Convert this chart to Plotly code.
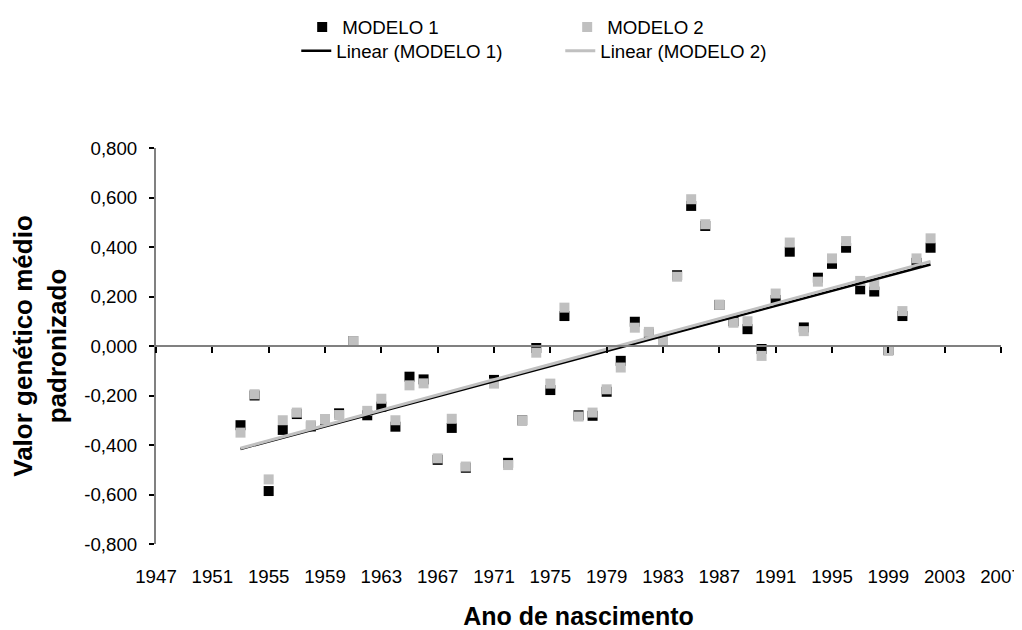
import numpy as np
import plotly.graph_objects as go

years = [1953, 1954, 1955, 1956, 1957, 1958, 1959, 1960, 1961, 1962, 1963, 1964,
         1965, 1966, 1967, 1968, 1969, 1971, 1972, 1973, 1974, 1975, 1976, 1977,
         1978, 1979, 1980, 1981, 1982, 1983, 1984, 1985, 1986, 1987, 1988, 1989,
         1990, 1991, 1992, 1993, 1994, 1995, 1996, 1997, 1998, 1999, 2000, 2001, 2002]

modelo1 = [-0.320, -0.200, -0.586, -0.339, -0.275, -0.325, -0.298, -0.272, 0.020, -0.280,
           -0.245, -0.326, -0.124, -0.135, -0.460, -0.331, -0.492, -0.137, -0.472, -0.300,
           -0.008, -0.178, 0.121, -0.280, -0.282, -0.185, -0.060, 0.098, 0.050, 0.018,
           0.286, 0.566, 0.485, 0.166, 0.100, 0.068, -0.012, 0.186, 0.381, 0.075,
           0.276, 0.332, 0.397, 0.229, 0.220, -0.017, 0.121, 0.336, 0.397]

modelo2 = [-0.350, -0.195, -0.539, -0.300, -0.269, -0.320, -0.296, -0.279, 0.020, -0.262,
           -0.213, -0.300, -0.159, -0.151, -0.454, -0.294, -0.487, -0.152, -0.481, -0.300,
           -0.027, -0.152, 0.155, -0.285, -0.269, -0.175, -0.087, 0.074, 0.057, 0.020,
           0.280, 0.593, 0.492, 0.166, 0.094, 0.100, -0.040, 0.212, 0.418, 0.060,
           0.260, 0.354, 0.424, 0.263, 0.246, -0.017, 0.141, 0.354, 0.435]

y_tickvals = [-0.8, -0.6, -0.4, -0.2, 0.0, 0.2, 0.4, 0.6, 0.8]
y_ticktext = ["-0,800", "-0,600", "-0,400", "-0,200", "0,000", "0,200", "0,400", "0,600", "0,800"]
x_tickvals = list(range(1947, 2008, 4))

FONT = "Liberation Sans"
BLACK = "#000000"
GRAY = "#c0c0c0"

x = np.array(years, dtype=float)
fit1 = np.polyfit(x, np.array(modelo1), 1)
fit2 = np.polyfit(x, np.array(modelo2), 1)
xl = np.array([min(years), max(years)], dtype=float)

fig = go.Figure()
fig.add_trace(go.Scatter(x=years, y=modelo1, mode="markers", name="MODELO 1",
                         marker=dict(symbol="square", size=10, color=BLACK),
                         legend="legend"))
fig.add_trace(go.Scatter(x=years, y=modelo2, mode="markers", name="MODELO 2",
                         marker=dict(symbol="square", size=10, color=GRAY),
                         legend="legend"))
fig.add_trace(go.Scatter(x=xl, y=np.polyval(fit1, xl), mode="lines", name="Linear (MODELO 1)",
                         line=dict(color=BLACK, width=2.5), legend="legend2"))
fig.add_trace(go.Scatter(x=xl, y=np.polyval(fit2, xl), mode="lines", name="Linear (MODELO 2)",
                         line=dict(color=GRAY, width=3), legend="legend2"))
# helper trace to register the axis drawn through y = 0
fig.add_trace(go.Scatter(x=[None], y=[None], xaxis="x2", yaxis="y", showlegend=False,
                         hoverinfo="skip"))

# the page body adds an 8px margin, so the figure is 8px smaller than the window
fig.update_layout(
    width=1014, height=622,
    margin=dict(l=148, r=21, t=140, b=86, autoexpand=False),
    paper_bgcolor="white", plot_bgcolor="white",
    font=dict(family=FONT, size=18.7, color="#000000"),
    showlegend=True,
    legend=dict(orientation="h", x=0.173, xanchor="left", y=1.305, yanchor="middle",
                entrywidth=220, entrywidthmode="pixels", font=dict(size=18.7),
                bgcolor="rgba(0,0,0,0)", traceorder="normal"),
    legend2=dict(orientation="h", x=0.166, xanchor="left", y=1.245, yanchor="middle",
                 entrywidth=219, entrywidthmode="pixels", font=dict(size=18.7),
                 bgcolor="rgba(0,0,0,0)", traceorder="normal"),
    xaxis=dict(range=[1947, 2007], tickmode="array", tickvals=x_tickvals,
               showgrid=False, zeroline=False, showline=False, automargin=False,
               ticks="outside", ticklen=16, tickcolor="rgba(0,0,0,0)",
               tickfont=dict(size=18.7),
               title=dict(text="<b>Ano de nascimento</b>", font=dict(size=25), standoff=24)),
    xaxis2=dict(range=[1947, 2007], overlaying="x", anchor="free", position=0.5,
                side="bottom", tickmode="array", tickvals=x_tickvals,
                showticklabels=False, showgrid=False, zeroline=False,
                showline=True, linecolor="#808080", linewidth=2,
                ticks="outside", ticklen=6, tickwidth=1.5, tickcolor=BLACK),
    yaxis=dict(range=[-0.8, 0.8], tickmode="array", tickvals=y_tickvals, ticktext=y_ticktext,
               showgrid=False, zeroline=False, showline=True, linecolor="#808080", linewidth=2,
               ticks="outside", ticklen=5, tickwidth=1.5, tickcolor=BLACK, automargin=False,
               ticklabelstandoff=8, tickfont=dict(size=18.7),
               title=dict(text="<b>Valor genético médio<br>padronizado</b>", font=dict(size=26),
                          standoff=20)),
)

fig.write_html("out.html")
